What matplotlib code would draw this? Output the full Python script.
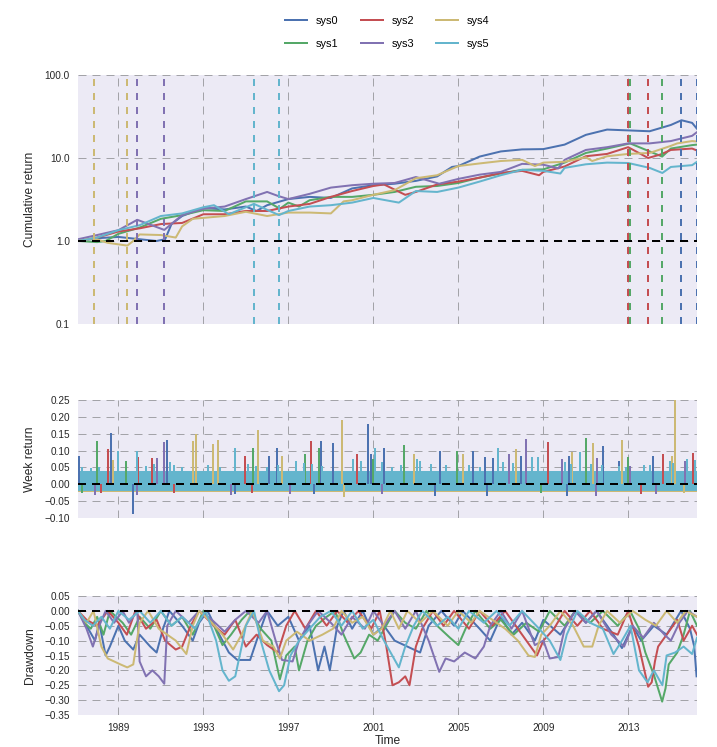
import matplotlib
matplotlib.use("Agg")
import matplotlib.pyplot as plt

plt.rcParams['font.family'] = ['Liberation Sans', 'DejaVu Sans']
plt.rcParams['axes.unicode_minus'] = True

systems = ["sys0", "sys1", "sys2", "sys3", "sys4", "sys5"]
palette = ["#4C72B0", "#55A868", "#C44E52", "#8172B2", "#CCB974", "#64B5CD"]

x_start, x_end = 1987.10, 2016.23
year_ticks = [1989, 1993, 1997, 2001, 2005, 2009, 2013]

# ---------------- cumulative return (decimal year, value) ----------------
cum_sys0 = [(1987.1, 1.0), (1988.0, 1.08), (1989.0, 1.12), (1990.0, 1.05), (1990.8, 1.0),
            (1991.2, 1.05), (1991.5, 1.6), (1992.0, 2.0), (1993.0, 2.5), (1994.0, 2.4),
            (1995.0, 2.6), (1995.5, 2.3), (1996.0, 2.7), (1997.0, 3.2), (1998.0, 3.4),
            (1999.0, 3.3), (2000.0, 4.3), (2001.0, 4.7), (2002.0, 4.9), (2003.0, 5.3),
            (2004.0, 6.0), (2004.7, 7.8), (2005.0, 8.0), (2006.0, 10.4), (2007.0, 12.0),
            (2008.0, 12.7), (2009.0, 12.8), (2010.0, 14.5), (2011.0, 19.0), (2012.0, 22.0),
            (2013.0, 21.5), (2014.0, 21.0), (2015.0, 25.0), (2015.5, 28.5), (2016.0, 26.5),
            (2016.23, 22.5)]
cum_sys1 = [(1987.1, 1.0), (1988.0, 0.97), (1988.4, 1.0), (1989.0, 1.22), (1990.0, 1.45),
            (1991.0, 1.85), (1992.0, 2.05), (1993.0, 2.35), (1994.0, 2.3), (1995.0, 3.0),
            (1996.0, 3.0), (1996.6, 2.45), (1997.0, 2.9), (1997.5, 2.6), (1998.0, 3.1),
            (1999.0, 3.4), (2000.0, 3.4), (2001.0, 3.6), (2002.0, 3.9), (2003.0, 4.5),
            (2004.0, 4.6), (2005.0, 5.0), (2006.0, 5.8), (2007.0, 6.5), (2008.0, 7.2),
            (2009.0, 7.3), (2010.0, 8.8), (2011.0, 11.5), (2012.0, 13.0), (2013.08, 15.0),
            (2014.0, 12.0), (2014.59, 10.4), (2015.0, 13.0), (2016.0, 14.3), (2016.23, 14.5)]
cum_sys2 = [(1987.1, 1.0), (1988.0, 1.1), (1989.0, 1.3), (1990.0, 1.42), (1991.0, 1.6),
            (1992.0, 1.65), (1993.0, 2.1), (1994.0, 2.1), (1995.0, 2.3), (1996.0, 2.3),
            (1997.0, 2.6), (1998.0, 2.8), (1999.0, 3.4), (2000.0, 4.0), (2001.0, 4.6),
            (2001.5, 4.8), (2002.5, 3.6), (2003.0, 3.9), (2004.0, 4.8), (2005.0, 5.2),
            (2006.0, 5.8), (2007.0, 6.6), (2008.0, 7.0), (2008.8, 6.2), (2009.0, 6.8),
            (2010.0, 7.9), (2011.0, 10.5), (2012.0, 11.2), (2012.99, 13.5), (2013.93, 10.0),
            (2014.5, 11.0), (2015.0, 12.5), (2016.0, 13.0), (2016.23, 12.3)]
cum_sys3 = [(1987.1, 1.05), (1988.0, 1.18), (1989.0, 1.35), (1989.89, 1.8), (1991.16, 1.36),
            (1992.0, 2.05), (1993.0, 2.45), (1994.0, 2.6), (1995.0, 3.2), (1996.0, 3.9),
            (1996.5, 3.5), (1997.0, 3.2), (1998.0, 3.7), (1999.0, 4.4), (2000.0, 4.7),
            (2001.0, 4.9), (2002.0, 5.0), (2003.0, 5.9), (2004.1, 4.9), (2005.0, 5.6),
            (2006.0, 6.3), (2007.0, 6.8), (2008.0, 8.5), (2009.0, 8.3), (2009.7, 7.5),
            (2010.0, 9.5), (2011.0, 12.5), (2012.0, 13.5), (2013.0, 15.0), (2014.0, 15.0),
            (2015.0, 16.0), (2016.0, 18.5), (2016.23, 20.5)]
cum_sys4 = [(1987.1, 1.0), (1987.83, 1.08), (1988.5, 0.95), (1989.42, 0.88), (1989.7, 1.0),
            (1990.0, 1.2), (1991.0, 1.18), (1991.7, 1.1), (1992.0, 1.5), (1992.5, 1.85),
            (1993.0, 1.9), (1994.0, 2.0), (1995.0, 2.25), (1996.0, 2.0), (1997.0, 2.2),
            (1998.0, 2.2), (1999.0, 2.15), (1999.6, 3.0), (2000.0, 3.1), (2001.0, 3.6),
            (2002.0, 4.1), (2003.0, 5.7), (2004.0, 6.2), (2005.0, 8.0), (2006.0, 8.6),
            (2007.0, 9.2), (2008.0, 9.5), (2008.6, 8.0), (2009.0, 8.8), (2010.0, 9.0),
            (2011.0, 10.2), (2011.3, 9.2), (2012.0, 10.5), (2013.0, 11.2), (2014.0, 11.5),
            (2015.0, 14.0), (2015.3, 15.0), (2016.0, 16.0), (2016.23, 15.8)]
cum_sys5 = [(1987.1, 1.0), (1988.0, 1.1), (1989.0, 1.35), (1990.0, 1.55), (1991.0, 2.0),
            (1992.0, 2.15), (1993.0, 2.55), (1993.5, 2.7), (1994.2, 2.1), (1995.38, 2.8),
            (1996.56, 2.05), (1997.0, 2.3), (1998.0, 2.6), (1999.0, 2.7), (2000.0, 2.9),
            (2001.0, 3.3), (2002.2, 2.9), (2003.0, 4.0), (2004.0, 3.9), (2005.0, 4.4),
            (2006.0, 5.2), (2007.0, 6.2), (2008.0, 7.2), (2009.0, 7.0), (2009.8, 6.5),
            (2010.0, 7.6), (2011.0, 8.4), (2012.0, 8.8), (2013.0, 8.7), (2014.0, 7.6),
            (2014.6, 6.6), (2015.0, 7.8), (2016.0, 8.2), (2016.23, 9.0)]

# max-drawdown start / end markers (decimal year)
mdd_start = [2015.48, 2013.08, 2012.99, 1989.89, 1987.83, 1995.38]
mdd_end = [2016.21, 2014.59, 2013.93, 1991.16, 1989.42, 1996.56]

# ---------------- week return: typical band and visible spikes ----------------
band_low = [-0.024, -0.023, -0.024, -0.024, -0.023, -0.020]
band_high = [0.034, 0.034, 0.034, 0.034, 0.034, 0.040]
spikes_sys0 = [(1987.16, 0.083), (1988.67, 0.151), (1989.71, -0.089), (1991.3, 0.131),
               (1994.5, -0.03), (1996.11, 0.085), (1996.48, 0.109), (1998.2, -0.029),
               (1998.55, 0.129), (1999.12, 0.121), (2000.76, 0.18), (2000.9, 0.09),
               (2001.52, 0.109), (2003.9, -0.034), (2004.15, 0.10), (2005.71, 0.10),
               (2006.27, 0.08), (2006.36, -0.035), (2006.65, 0.078), (2007.96, 0.085),
               (2010.1, -0.034), (2010.22, 0.085), (2011.82, 0.114), (2012.58, 0.07),
               (2014.18, 0.085)]
spikes_sys1 = [(1987.3, -0.027), (1988.01, 0.129), (1989.38, 0.068), (1995.35, 0.109),
               (1997.8, 0.09), (1998.46, 0.109), (2001.0, 0.075), (2002.46, 0.117),
               (2004.95, 0.10), (2008.9, -0.027), (2011.02, 0.138), (2013.0, 0.08)]
spikes_sys2 = [(1988.2, -0.026), (1988.53, 0.104), (1989.94, 0.08), (1990.6, 0.077),
               (1991.6, -0.026), (1994.98, 0.083), (1995.3, -0.027), (1998.08, 0.129),
               (2000.25, 0.09), (2009.24, 0.124), (2013.6, -0.03), (2014.65, 0.09),
               (2016.06, 0.093)]
spikes_sys3 = [(1987.9, -0.033), (1989.9, -0.031), (1990.84, 0.077), (1991.16, 0.125),
               (1994.3, -0.031), (1997.1, -0.028), (2001.4, -0.028), (2007.4, 0.09),
               (2008.2, 0.133), (2009.89, 0.075), (2011.5, -0.034), (2011.54, 0.078),
               (2013.09, 0.054), (2014.3, -0.03), (2015.68, 0.07)]
spikes_sys4 = [(1988.76, 0.073), (1992.53, 0.129), (1992.67, 0.15), (1993.47, 0.119),
               (1993.71, 0.132), (1995.59, 0.16), (1996.72, 0.085), (1999.54, 0.19),
               (1999.6, -0.038), (2002.93, 0.09), (2005.24, 0.09), (2007.73, 0.104),
               (2010.36, 0.095), (2011.35, 0.121), (2012.72, 0.13), (2015.07, 0.085),
               (2015.21, 0.25), (2015.6, -0.026)]
spikes_sys5 = [(1987.3, 0.051), (1987.7, 0.048), (1988.1, 0.052), (1989.0, 0.10),
               (1989.89, 0.10), (1990.3, 0.055), (1990.7, 0.06), (1991.45, 0.066),
               (1991.6, 0.058), (1992.0, 0.05), (1993.2, 0.056), (1993.8, 0.052),
               (1994.51, 0.109), (1995.1, 0.06), (1995.5, 0.055), (1996.0, 0.052),
               (1996.5, 0.056), (1997.35, 0.07), (1997.75, 0.062), (1998.1, 0.06),
               (1998.6, 0.055), (2000.05, 0.075), (2000.4, 0.07), (2001.09, 0.109),
               (2001.4, 0.065), (2001.9, 0.052), (2002.3, 0.056), (2003.05, 0.075),
               (2003.2, 0.07), (2003.7, 0.06), (2004.4, 0.058), (2005.5, 0.056),
               (2006.0, 0.052), (2006.88, 0.107), (2007.1, 0.065), (2007.55, 0.062),
               (2008.45, 0.08), (2008.76, 0.08), (2010.0, 0.065), (2010.3, 0.06),
               (2010.74, 0.097), (2011.25, 0.06), (2011.75, 0.058), (2012.55, 0.055),
               (2012.9, 0.052), (2013.75, 0.058), (2014.0, 0.056), (2014.95, 0.068),
               (2015.1, 0.062), (2015.75, 0.075), (2016.15, 0.072)]

# ---------------- drawdown (decimal year, value) ----------------
dd_sys0 = [(1987.1, 0), (1987.5, -0.05), (1987.9, -0.1), (1988.1, -0.04), (1988.4, -0.15),
           (1988.6, -0.12), (1989.0, -0.05), (1989.3, -0.1), (1989.7, -0.13), (1990.0, -0.08),
           (1990.5, -0.12), (1990.8, -0.14), (1991.1, -0.06), (1991.4, 0), (1992.0, -0.05),
           (1992.5, -0.1), (1992.8, -0.04), (1993.2, 0), (1993.6, -0.06), (1994.2, -0.14),
           (1994.6, -0.165), (1995.2, -0.165), (1995.6, -0.08), (1996.0, 0), (1996.5, -0.05),
           (1997.0, -0.02), (1997.5, -0.1), (1998.0, -0.05), (1998.4, -0.2), (1998.7, -0.12),
           (1998.95, -0.2), (1999.3, -0.05), (1999.6, 0), (2000.0, -0.06), (2000.5, 0),
           (2001.0, -0.08), (2001.5, -0.05), (2002.0, -0.1), (2003.2, -0.14), (2003.6, -0.05),
           (2004.2, 0), (2004.8, -0.05), (2005.2, 0), (2006.0, -0.06), (2006.5, -0.1),
           (2007.0, -0.02), (2007.5, -0.08), (2008.0, -0.04), (2008.6, -0.1), (2009.0, -0.03),
           (2009.8, -0.08), (2010.5, 0), (2011.0, -0.04), (2011.5, 0), (2012.3, -0.08),
           (2012.7, -0.125), (2013.2, -0.05), (2013.6, -0.1), (2014.2, -0.05), (2014.8, -0.08),
           (2015.48, 0), (2015.9, -0.06), (2016.1, -0.12), (2016.21, -0.22)]
dd_sys1 = [(1987.1, 0), (1987.4, -0.04), (1987.7, -0.06), (1988.0, -0.02), (1988.3, -0.08),
           (1988.6, 0), (1989.2, -0.04), (1989.6, -0.08), (1990.0, -0.02), (1990.5, -0.06),
           (1991.0, 0), (1991.5, -0.05), (1992.0, -0.02), (1992.5, -0.08), (1993.0, 0),
           (1993.5, -0.05), (1993.9, -0.115), (1994.3, -0.08), (1994.8, -0.03), (1995.2, 0),
           (1995.7, -0.06), (1996.2, -0.1), (1996.6, -0.23), (1996.9, -0.15), (1997.3, -0.12),
           (1997.5, -0.2), (1997.9, -0.1), (1998.3, -0.05), (1998.8, -0.02), (1999.2, 0),
           (1999.6, -0.08), (2000.1, -0.16), (2000.4, -0.14), (2000.8, -0.08), (2001.2, -0.1),
           (2001.6, -0.05), (2002.0, 0), (2002.5, -0.04), (2003.0, -0.06), (2003.5, 0),
           (2004.0, -0.05), (2004.6, -0.09), (2005.0, -0.115), (2005.4, -0.05), (2005.8, 0),
           (2006.5, -0.06), (2007.0, -0.03), (2007.6, -0.08), (2008.2, -0.04), (2008.8, -0.07),
           (2009.3, 0), (2010.0, -0.05), (2010.5, 0), (2011.2, -0.04), (2011.8, 0),
           (2012.5, -0.05), (2013.08, 0), (2013.5, -0.06), (2013.8, -0.14), (2014.2, -0.215),
           (2014.59, -0.305), (2014.75, -0.26), (2014.9, -0.18), (2015.3, -0.14),
           (2015.6, -0.08), (2015.9, 0), (2016.23, -0.05)]
dd_sys2 = [(1987.1, 0), (1987.5, -0.03), (1988.0, -0.05), (1988.5, 0), (1989.0, -0.04),
           (1989.4, -0.08), (1989.8, 0), (1990.3, -0.06), (1990.8, -0.03), (1991.2, -0.1),
           (1991.7, -0.13), (1992.0, -0.12), (1992.4, -0.05), (1992.8, 0), (1993.5, -0.05),
           (1994.0, -0.08), (1994.5, -0.03), (1995.0, -0.12), (1995.5, -0.08), (1996.0, -0.115),
           (1996.5, -0.14), (1996.9, -0.05), (1997.3, 0), (1997.8, -0.06), (1998.3, 0),
           (1998.8, -0.05), (1999.3, 0), (1999.8, -0.04), (2000.3, 0), (2000.9, -0.06),
           (2001.3, 0), (2001.6, -0.115), (2001.9, -0.25), (2002.2, -0.24), (2002.5, -0.22),
           (2002.7, -0.25), (2003.0, -0.12), (2003.3, -0.06), (2003.8, 0), (2004.3, -0.05),
           (2004.8, 0), (2005.5, -0.06), (2006.0, 0), (2006.6, -0.05), (2007.2, 0),
           (2007.8, -0.06), (2008.7, -0.15), (2009.0, -0.1), (2009.5, -0.06), (2010.0, 0),
           (2010.6, -0.05), (2011.2, 0), (2011.8, -0.06), (2012.5, -0.08), (2012.99, 0),
           (2013.5, -0.12), (2013.93, -0.255), (2014.1, -0.24), (2014.25, -0.17),
           (2014.4, -0.12), (2014.8, -0.08), (2015.3, -0.03), (2015.6, -0.1), (2016.0, -0.05),
           (2016.23, -0.08)]
dd_sys3 = [(1987.1, 0), (1987.5, -0.06), (1987.8, -0.12), (1988.1, -0.05), (1988.4, 0),
           (1988.8, -0.04), (1989.2, 0), (1989.5, -0.04), (1989.89, 0), (1990.0, -0.17),
           (1990.3, -0.22), (1990.6, -0.2), (1990.9, -0.22), (1991.16, -0.245), (1991.3, -0.05),
           (1991.7, 0), (1992.3, -0.04), (1992.8, 0), (1993.4, -0.03), (1994.0, -0.07),
           (1994.5, -0.03), (1995.0, 0), (1995.6, -0.04), (1996.0, 0), (1996.4, -0.1),
           (1996.7, -0.165), (1997.2, -0.17), (1997.5, -0.1), (1997.9, -0.05), (1998.4, 0),
           (1999.0, -0.04), (1999.5, -0.08), (2000.0, -0.02), (2000.6, -0.06), (2001.0, 0),
           (2001.5, -0.05), (2002.0, 0), (2002.5, -0.06), (2003.0, 0), (2003.6, -0.1),
           (2004.1, -0.205), (2004.4, -0.16), (2004.8, -0.17), (2005.3, -0.14), (2005.8, -0.16),
           (2006.2, -0.12), (2006.5, -0.05), (2007.0, 0), (2007.5, -0.06), (2008.0, 0),
           (2008.6, -0.115), (2009.0, -0.1), (2009.3, -0.16), (2009.7, -0.155), (2010.0, -0.06),
           (2010.5, 0), (2011.0, -0.04), (2011.5, 0), (2012.2, -0.08), (2012.8, -0.12),
           (2013.2, -0.05), (2013.7, -0.09), (2014.2, -0.04), (2014.7, -0.08), (2015.0, -0.1),
           (2015.4, -0.04), (2015.8, 0), (2016.23, -0.02)]
dd_sys4 = [(1987.1, 0), (1987.5, -0.04), (1987.83, 0), (1988.2, -0.12), (1988.5, -0.16),
           (1988.8, -0.17), (1989.1, -0.18), (1989.42, -0.19), (1989.7, -0.18), (1990.0, -0.04),
           (1990.4, 0), (1990.9, -0.06), (1991.3, -0.08), (1991.7, -0.1), (1992.2, -0.145),
           (1992.5, -0.05), (1992.8, 0), (1993.4, -0.04), (1993.9, -0.08), (1994.4, -0.13),
           (1994.8, -0.08), (1995.3, 0), (1995.8, -0.1), (1996.3, -0.12), (1996.6, -0.16),
           (1996.9, -0.1), (1997.4, -0.07), (1998.0, -0.1), (1998.6, -0.08), (1999.1, -0.06),
           (1999.5, 0), (2000.0, -0.04), (2000.5, -0.02), (2001.0, -0.08), (2001.4, -0.06),
           (2001.8, 0), (2002.2, -0.06), (2002.6, 0), (2003.2, -0.04), (2003.8, 0),
           (2004.5, -0.05), (2005.0, 0), (2005.6, -0.04), (2006.0, 0), (2006.6, -0.03),
           (2007.2, -0.06), (2007.8, -0.1), (2008.3, -0.15), (2008.6, -0.155), (2008.9, -0.08),
           (2009.3, -0.05), (2009.8, 0), (2010.4, -0.05), (2010.9, -0.12), (2011.3, -0.12),
           (2011.6, -0.05), (2012.0, 0), (2012.6, -0.04), (2013.2, 0), (2013.8, -0.03),
           (2014.3, -0.05), (2014.8, 0), (2015.3, -0.04), (2015.7, 0), (2016.23, -0.02)]
dd_sys5 = [(1987.1, 0), (1987.4, -0.03), (1987.8, -0.05), (1988.2, -0.02), (1988.6, -0.06),
           (1989.0, 0), (1989.5, -0.03), (1990.0, 0), (1990.5, -0.04), (1991.0, 0),
           (1991.5, -0.05), (1992.0, -0.02), (1992.6, -0.06), (1993.1, 0), (1993.6, -0.1),
           (1993.9, -0.2), (1994.2, -0.235), (1994.5, -0.22), (1994.8, -0.12), (1995.0, -0.05),
           (1995.38, 0), (1995.7, -0.1), (1996.1, -0.2), (1996.56, -0.27), (1996.8, -0.25),
           (1997.1, -0.15), (1997.5, -0.1), (1998.0, -0.06), (1998.5, -0.02), (1999.0, 0),
           (1999.5, -0.05), (2000.0, 0), (2000.5, -0.06), (2001.0, -0.03), (2001.5, -0.1),
           (2002.2, -0.19), (2002.5, -0.12), (2002.9, -0.05), (2003.3, 0), (2004.0, -0.05),
           (2004.5, -0.02), (2005.0, -0.06), (2005.5, 0), (2006.2, -0.04), (2006.8, 0),
           (2007.4, -0.05), (2008.0, 0), (2008.8, -0.06), (2009.3, -0.1), (2009.8, -0.165),
           (2010.1, -0.08), (2010.6, 0), (2011.2, -0.04), (2011.8, -0.06), (2012.3, -0.145),
           (2012.7, -0.1), (2013.1, -0.05), (2013.5, -0.2), (2013.9, -0.24), (2014.2, -0.2),
           (2014.6, -0.25), (2014.8, -0.15), (2015.2, -0.14), (2015.6, -0.12), (2016.0, -0.145),
           (2016.23, -0.09)]

cum_data = [cum_sys0, cum_sys1, cum_sys2, cum_sys3, cum_sys4, cum_sys5]
spike_data = [spikes_sys0, spikes_sys1, spikes_sys2, spikes_sys3, spikes_sys4, spikes_sys5]
dd_data = [dd_sys0, dd_sys1, dd_sys2, dd_sys3, dd_sys4, dd_sys5]

# ---------------- figure ----------------
W, H = 717, 747
fig = plt.figure(figsize=(W / 72, H / 72), dpi=72)
L, R = 78, 697
ax1 = fig.add_axes([L / W, 1 - 324 / H, (R - L) / W, (324 - 75) / H])
ax2 = fig.add_axes([L / W, 1 - 518 / H, (R - L) / W, (518 - 400) / H])
ax3 = fig.add_axes([L / W, 1 - 715 / H, (R - L) / W, (715 - 596) / H])

for ax in (ax1, ax2, ax3):
    ax.set_facecolor('#ECEAF5')
    for s in ax.spines.values():
        s.set_visible(False)
    ax.set_axisbelow(True)
    ax.grid(True, which='major', color='#a3a3a8', lw=1.0, linestyle=(0, (8, 6)))
    ax.tick_params(axis='both', which='both', length=0, pad=8, labelsize=10, colors='#262626')
    ax.set_xlim(x_start, x_end)
    ax.set_xticks(year_ticks)

# cumulative
handles = []
for name, col, data in zip(systems, palette, cum_data):
    h, = ax1.plot([d[0] for d in data], [d[1] for d in data], color=col, lw=2, label=name)
    handles.append(h)
for col, a, b in zip(palette, mdd_start, mdd_end):
    ax1.axvline(a, color=col, lw=2, linestyle=(0, (3.5, 3.5)))
    ax1.axvline(b, color=col, lw=2, linestyle=(0, (3.5, 3.5)))
ax1.axhline(1.0, color='black', lw=2, linestyle=(0, (4, 3)))
ax1.set_yscale('log')
ax1.set_ylim(0.1, 100)
ax1.set_yticks([0.1, 1, 10, 100])
ax1.set_yticklabels(['0.1', '1.0', '10.0', '100.0'])
ax1.yaxis.set_minor_locator(matplotlib.ticker.NullLocator())
ax1.set_xticklabels([])
ax1.set_ylabel('Cumulative return', fontsize=12, color='#262626')

# week returns
for col, lo, hi, spk in zip(palette, band_low, band_high, spike_data):
    ax2.fill_between([x_start, x_end], [lo, lo], [hi, hi], color=col, lw=0)
    ax2.vlines([s[0] for s in spk], 0, [s[1] for s in spk], color=col, lw=2)
ax2.axhline(0.0, color='black', lw=2, linestyle=(0, (4, 3)))
ax2.set_ylim(-0.10, 0.25)
ax2.set_yticks([-0.10, -0.05, 0.0, 0.05, 0.10, 0.15, 0.20, 0.25])
ax2.set_xticklabels([])
ax2.set_ylabel('Week return', fontsize=12, color='#262626')

# drawdown
for col, data in zip(palette, dd_data):
    ax3.plot([d[0] for d in data], [d[1] for d in data], color=col, lw=2)
ax3.axhline(0.0, color='black', lw=2, linestyle=(0, (4, 3)))
ax3.set_ylim(-0.35, 0.05)
ax3.set_yticks([-0.35, -0.30, -0.25, -0.20, -0.15, -0.10, -0.05, 0.0, 0.05])
ax3.set_xticklabels([str(y) for y in year_ticks])
ax3.set_ylabel('Drawdown', fontsize=12, color='#262626')
ax3.set_xlabel('Time', fontsize=12, color='#262626', labelpad=2)

for ax in (ax1, ax2, ax3):
    ax.yaxis.set_label_coords(-0.068, 0.5)

fig.legend(handles, systems, loc='upper center', bbox_to_anchor=(387.5 / W, 1 - 6 / H),
           ncol=3, frameon=False, fontsize=11, labelspacing=1.2)

fig.savefig('out.png', dpi=72, facecolor='white')
